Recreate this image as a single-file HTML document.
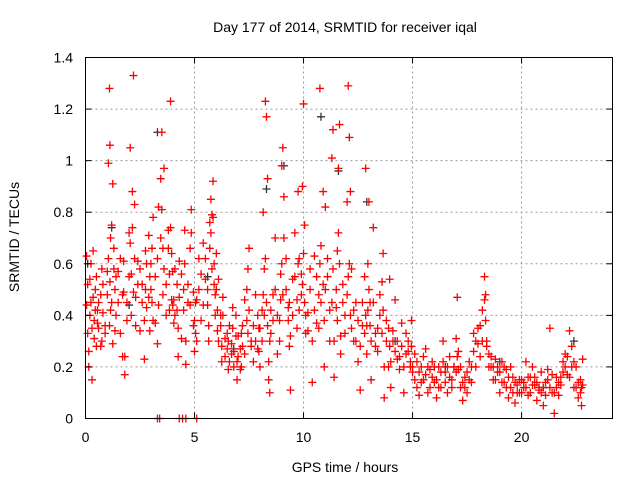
<!DOCTYPE html>
<html><head><meta charset="utf-8"><style>
body{margin:0;background:#fff}
svg{display:block;font-family:"Liberation Sans",sans-serif}
</style></head><body>
<svg id="chart" width="640" height="480" viewBox="0 0 640 480">
<rect width="640" height="480" fill="#fff"/>
<text x="345" y="32" font-size="14" text-anchor="middle" fill="#000">Day 177 of 2014, SRMTID for receiver iqal</text>
<text transform="translate(19,237) rotate(-90)" font-size="14" text-anchor="middle" fill="#000">SRMTID / TECUs</text>
<text x="345" y="472" font-size="14" text-anchor="middle" fill="#000">GPS time / hours</text>
<g id="grid"></g>
<g id="marks"></g>
<rect x="85.5" y="57.5" width="527" height="361" fill="none" stroke="#000" stroke-width="1"/>
<g id="ticks"></g>
</svg>
<script>
const xTicks=[0,5,10,15,20];
const yTicks=[0,0.2,0.4,0.6,0.8,1,1.2,1.4];
const yTickLabels=["0","0.2","0.4","0.6","0.8","1","1.2","1.4"];
const hours=[
0.05,0.1,0.15,0.2,0.25,0.3,0.35,0.4,0.45,0.5,0.55,0.6,0.7,0.75,0.8,0.9,
1.0,1.05,1.1,1.12,1.15,1.2,1.25,1.3,1.35,1.4,1.5,1.6,1.7,1.75,1.8,1.9,
2.0,2.05,2.1,2.15,2.2,2.25,2.3,2.4,2.5,2.6,2.7,2.75,2.8,2.9,2.95,
3.0,3.05,3.1,3.2,3.3,3.35,3.45,3.5,3.55,3.6,3.7,3.8,3.85,3.9,3.95,
4.0,4.05,4.1,4.2,4.25,4.3,4.4,4.5,4.55,4.6,4.7,4.8,4.85,4.95,
5.0,5.05,5.1,5.2,5.3,5.4,5.5,5.6,5.65,5.7,5.75,5.8,5.85,5.9,5.95,
6.0,6.05,6.1,6.2,6.25,6.3,6.4,6.5,6.55,6.6,6.7,6.75,6.8,6.9,6.95,
7.0,7.1,7.15,7.2,7.3,7.4,7.45,7.5,7.6,7.7,7.8,7.9,7.95,
8.0,8.1,8.15,8.2,8.25,8.3,8.35,8.4,8.45,8.5,8.6,8.7,8.8,8.9,8.95,
9.0,9.05,9.1,9.2,9.3,9.35,9.4,9.5,9.6,9.7,9.75,9.8,9.9,9.95,
10.0,10.05,10.1,10.2,10.3,10.4,10.5,10.6,10.7,10.75,10.8,10.9,10.95,
11.0,11.1,11.2,11.3,11.35,11.4,11.5,11.55,11.6,11.65,11.7,11.8,11.9,
12.0,12.05,12.1,12.15,12.2,12.3,12.4,12.5,12.6,12.7,12.8,12.85,12.9,12.95,
13.0,13.05,13.1,13.2,13.3,13.4,13.5,13.6,13.65,13.7,13.8,13.9,13.95,
14.0,14.1,14.2,14.3,14.4,14.5,14.6,14.7,14.8,14.9,14.95,
15.0,15.1,15.2,15.3,15.4,15.5,15.6,15.7,15.8,15.9,
16.0,16.1,16.2,16.3,16.4,16.5,16.6,16.7,16.8,16.9,
17.0,17.05,17.1,17.2,17.3,17.4,17.5,17.6,17.7,17.8,17.9,
18.0,18.1,18.2,18.3,18.35,18.4,18.5,18.6,18.7,18.8,18.9,
19.0,19.1,19.2,19.3,19.4,19.5,19.6,19.7,19.8,19.9,
20.0,20.1,20.2,20.3,20.4,20.5,20.6,20.7,20.8,20.9,
21.0,21.1,21.2,21.3,21.4,21.5,21.6,21.7,21.8,21.9,
22.0,22.1,22.2,22.3,22.4,22.5,22.6,22.7,22.75,22.8];
const tecRed=[
.63,.33,.2,.54,.45,.15,.65,.38,.5,.28,.42,.35,.48,.3,.52,.36,
.57,.99,1.28,1.06,.42,.75,.91,.58,.34,.55,.45,.62,.24,.49,.17,.38,
.72,1.05,.56,.88,1.33,.83,.47,.61,.34,.52,.23,.65,.43,.71,.55,
.6,.45,.78,.37,.29,.82,.93,1.11,.66,.97,.52,.73,.42,1.23,.64,
.44,.37,.58,.42,.24,.61,.31,.5,.73,.21,.45,.66,.81,.36,
.26,.33,.46,.62,.38,.68,.54,.44,.3,.76,.85,.79,.92,.6,.48,
.64,.34,.54,.4,.22,.47,.31,.27,.19,.36,.25,.43,.2,.32,.15,
.24,.19,.33,.28,.46,.38,.58,.66,.3,.22,.48,.27,.35,
.2,.42,.8,.58,1.23,1.17,.93,.15,.1,.33,.48,.7,.25,.38,.56,
.98,1.05,.86,.62,.43,.28,.11,.54,.72,.35,.88,.62,.48,.9,
1.22,.75,.33,.41,.58,.14,.63,.37,.48,1.28,.67,.88,.2,
.82,.55,.3,1.01,1.12,.16,.43,.65,.97,1.14,.25,.52,.33,
.84,1.29,1.09,.88,.58,.3,.45,.22,.11,.36,.55,.97,.25,.6,
.84,.45,.15,.74,.33,.26,.48,.53,.64,.08,.38,.2,.54,
.12,.3,.46,.23,.19,.37,.1,.33,.26,.2,.38,
.18,.25,.12,.09,.2,.15,.27,.1,.19,.22,
.14,.08,.2,.12,.3,.18,.1,.24,.15,.2,
.31,.47,.19,.12,.07,.16,.1,.22,.14,.33,.2,
.29,.36,.42,.55,.48,.3,.25,.2,.15,.23,.18,
.1,.22,.14,.19,.08,.12,.16,.06,.13,.1,
.15,.12,.22,.09,.16,.2,.13,.07,.11,.18,
.05,.14,.19,.35,.1,.02,.16,.09,.13,.22,
.25,.17,.34,.28,.12,.2,.08,.15,.05,.23];
const tecRed2=[
.44,.52,.26,.4,.6,.35,.47,.31,.42,.55,.37,.45,.28,.58,.41,.33,
.48,.62,.36,.53,.7,.45,.29,.66,.5,.4,.57,.33,.48,.61,.24,.45,
.55,.68,.4,.74,.49,.62,.36,.52,.58,.45,.38,.5,.6,.47,.34,
.5,.66,.38,.55,.62,.44,.7,.81,.48,.58,.4,.66,.56,.74,.46,
.57,.46,.4,.52,.35,.47,.56,.42,.6,.3,.52,.44,.72,.49,
.38,.45,.3,.5,.56,.44,.62,.5,.36,.66,.72,.58,.78,.52,.4,
.5,.42,.3,.36,.28,.4,.24,.33,.3,.22,.29,.35,.26,.4,.22,
.32,.27,.2,.36,.25,.5,.33,.42,.28,.36,.3,.4,.26,
.35,.3,.48,.4,.62,.45,.36,.22,.3,.42,.38,.5,.4,.3,.46,
.6,.48,.7,.5,.38,.45,.32,.4,.55,.46,.6,.42,.56,.52,
.64,.45,.4,.34,.5,.3,.42,.55,.35,.6,.45,.52,.38,
.5,.62,.42,.45,.58,.3,.5,.38,.72,.6,.32,.45,.4,
.48,.55,.6,.4,.35,.42,.3,.38,.28,.45,.33,.4,.36,.42,
.5,.36,.3,.45,.28,.35,.4,.33,.42,.2,.3,.35,.28,
.22,.34,.26,.3,.24,.28,.2,.25,.3,.22,.28,
.2,.15,.22,.18,.14,.24,.17,.2,.12,.16,
.2,.15,.12,.18,.22,.14,.2,.16,.12,.2,
.18,.24,.26,.2,.14,.12,.18,.15,.2,.26,.3,
.35,.24,.3,.46,.38,.28,.2,.24,.2,.15,.2,
.18,.14,.2,.12,.16,.2,.1,.14,.1,.15,
.1,.14,.12,.16,.1,.13,.16,.14,.12,.1,
.12,.09,.15,.12,.17,.1,.12,.14,.16,.18,
.2,.24,.16,.2,.22,.12,.14,.1,.12,.13];
const hoursBlack=[0.1,1.2,2.0,3.3,5.6,6.8,8.3,9.1,10.8,11.6,12.9,14.2,16.5,19.0,21.0,22.4];
const tecBlack=[.6,.74,.44,1.11,.55,.27,.89,.98,1.17,.96,.84,.3,.2,.22,.12,.3];
const hoursZero=[3.3,3.4,4.3,4.45,4.6,5.1];
const tecZero=[0,0,0,0,0,0];

const X0=85.5,X1=612.5,Y0=418.5,Y1=57.5,XMAX=24.17,YMAX=1.4;
function sx(v){return X0+(X1-X0)*v/XMAX;}
function sy(v){return Y0-(Y0-Y1)*v/YMAX;}
const NS="http://www.w3.org/2000/svg";
const grid=document.getElementById('grid'),ticks=document.getElementById('ticks'),marks=document.getElementById('marks');
function line(p,x1,y1,x2,y2,st,dash){const l=document.createElementNS(NS,'line');l.setAttribute('x1',x1);l.setAttribute('y1',y1);l.setAttribute('x2',x2);l.setAttribute('y2',y2);l.setAttribute('stroke',st);if(dash)l.setAttribute('stroke-dasharray',dash);p.appendChild(l);return l;}
function txt(p,x,y,s,anchor){const t=document.createElementNS(NS,'text');t.setAttribute('x',x);t.setAttribute('y',y);t.setAttribute('font-size','14');t.setAttribute('text-anchor',anchor);t.textContent=s;p.appendChild(t);return t;}
xTicks.forEach(v=>{const x=sx(v);
 if(v>0){const g=line(grid,x,Y0,x,Y1,'#999','2,3');}
 const a=line(ticks,x,Y0,x,Y0-6,'#000');
 const b=line(ticks,x,Y1,x,Y1+6,'#000');
 const t=txt(ticks,x,442,String(v),'middle');});
yTicks.forEach((v,i)=>{const y=sy(v);
 if(v>0&&v<1.4){const g=line(grid,X0,y,X1,y,'#999','2,3');}
 const a=line(ticks,X0,y,X0+6,y,'#000');
 const b=line(ticks,X1,y,X1-6,y,'#000');
 const t=txt(ticks,73,y+5,yTickLabels[i],'end');});
function plus(x,y,c){const p=document.createElementNS(NS,'path');p.setAttribute('d',`M${x-4},${y}h8M${x},${y-4}v8`);p.setAttribute('stroke',c);p.setAttribute('stroke-width','1.3');p.setAttribute('fill','none');marks.appendChild(p);return p;}
hoursBlack.forEach((h,i)=>{const p=plus(sx(h),sy(tecBlack[i]),'#333');

});
hours.forEach((h,i)=>{const p=plus(sx(h),sy(tecRed2[i]),'#f00');

});
hours.forEach((h,i)=>{const p=plus(sx(h),sy(tecRed[i]),'#f00');

});
hoursZero.forEach((h,i)=>{const p=plus(sx(h),sy(tecZero[i]),'#f00');

});
</script>
</body></html>
